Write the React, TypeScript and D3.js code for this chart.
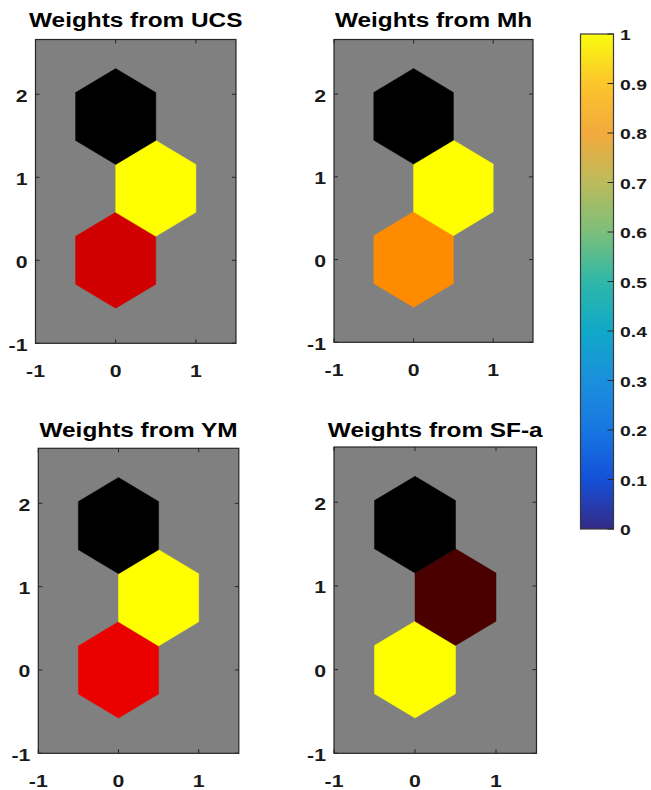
import React, { useEffect, useRef } from 'react';
import * as d3 from 'd3';

// neuron positions of the 1x3 hex SOM grid
const neuronX = [0, 0.5, 0];
const neuronY = [0, 0.866, 1.732];

const panelTitles = ['Weights from UCS', 'Weights from Mh', 'Weights from YM', 'Weights from SF-a'];

// normalised weight per neuron (0 = black, 0.5 = red, 1 = yellow)
const weightsUCS = [0.41, 1, 0];
const weightsMh = [0.775, 1, 0];
const weightsYM = [0.46, 1, 0];
const weightsSFa = [1, 0.147, 0];
const panelWeights = [weightsUCS, weightsMh, weightsYM, weightsSFa];

const xTicks = [-1, 0, 1];
const yTicks = [-1, 0, 1, 2];
const cbTicks = [0, 0.1, 0.2, 0.3, 0.4, 0.5, 0.6, 0.7, 0.8, 0.9, 1];

// parula-like colormap key colours, one per colorbar tick
const parulaStops = ['#352a87', '#1450d8', '#1877e2', '#1a8fdc', '#10a8c8', '#2fb7a8', '#7cbf7a', '#bcbb5c', '#f2aa3c', '#fcc52c', '#f9fb0e'];

// axes boxes in pixels
const panels = [
  { left: 35.5, right: 236, top: 39.5, bottom: 343.3, titleY: 27 },
  { left: 334, right: 533, top: 39.5, bottom: 342.3, titleY: 27 },
  { left: 38.3, right: 238.8, top: 448.3, bottom: 753.3, titleY: 437 },
  { left: 334, right: 536.5, top: 447, bottom: 753.3, titleY: 437 },
];

const W = 651;
const H = 790;
const STRETCH = 1.25;
const FONT = '"Liberation Sans", Arial, Helvetica, sans-serif';

const App: React.FC = () => {
  const svgRef = useRef<SVGSVGElement>(null);

  useEffect(() => {
    if (!svgRef.current) return;
    const svg = d3.select(svgRef.current);
    svg.selectAll('*').remove();

    svg.append('rect').attr('width', W).attr('height', H).attr('fill', '#fff');

    const heat = d3.scaleLinear<string>()
      .domain([0, 0.5, 1])
      .range(['#000000', '#ff0000', '#ffff00']);

    const addText = (g: any, x: number, y: number, txt: string, size: number, anchor: string, color = '#1a1a1a') => {
      g.append('text')
        .attr('transform', `translate(${x},${y}) scale(${STRETCH},1)`)
        .attr('text-anchor', anchor)
        .attr('font-family', FONT)
        .attr('font-weight', 'bold')
        .attr('font-size', size)
        .attr('fill', color)
        .text(txt);
    };

    const hexR = 1 / Math.sqrt(3);
    const angles = d3.range(6).map((k) => Math.PI / 2 + (k * Math.PI) / 3);

    panels.forEach((p, i) => {
      const x = d3.scaleLinear().domain([-1, 1.5]).range([p.left, p.right]);
      const y = d3.scaleLinear().domain([-1, 2.66]).range([p.bottom, p.top]);
      const g = svg.append('g');

      g.append('rect')
        .attr('x', p.left).attr('y', p.top)
        .attr('width', p.right - p.left).attr('height', p.bottom - p.top)
        .attr('fill', '#808080');

      const line = d3.line<[number, number]>().x((d) => x(d[0])).y((d) => y(d[1]));
      panelWeights[i].forEach((w, n) => {
        const pts = angles.map((a) => [neuronX[n] + hexR * Math.cos(a), neuronY[n] + hexR * Math.sin(a)] as [number, number]);
        g.append('path')
          .attr('d', line(pts) + 'Z')
          .attr('fill', heat(w))
          .attr('stroke', heat(w))
          .attr('stroke-width', 0.5);
      });

      g.append('rect')
        .attr('x', p.left).attr('y', p.top)
        .attr('width', p.right - p.left).attr('height', p.bottom - p.top)
        .attr('fill', 'none')
        .attr('stroke', '#262626')
        .attr('stroke-width', 1.2);

      const tl = 4;
      xTicks.forEach((t) => {
        g.append('line').attr('x1', x(t)).attr('x2', x(t)).attr('y1', p.bottom).attr('y2', p.bottom - tl).attr('stroke', '#262626');
        g.append('line').attr('x1', x(t)).attr('x2', x(t)).attr('y1', p.top).attr('y2', p.top + tl).attr('stroke', '#262626');
        addText(g, x(t), p.bottom + 34, String(t), 17, 'middle');
      });
      yTicks.forEach((t) => {
        g.append('line').attr('x1', p.left).attr('x2', p.left + tl).attr('y1', y(t)).attr('y2', y(t)).attr('stroke', '#262626');
        g.append('line').attr('x1', p.right).attr('x2', p.right - tl).attr('y1', y(t)).attr('y2', y(t)).attr('stroke', '#262626');
        addText(g, p.left - 8, y(t) + 7.5, String(t), 17, 'end');
      });

      addText(g, (p.left + p.right) / 2, p.titleY, panelTitles[i], 19.5, 'middle', '#000');
    });

    // colorbar
    const cb = { left: 580.5, right: 613.5, top: 34, bottom: 529 };
    const cbScale = d3.scaleLinear().domain([0, 1]).range([cb.bottom, cb.top]);
    const parula = d3.scaleLinear<string>()
      .domain(parulaStops.map((_, k) => k / (parulaStops.length - 1)))
      .range(parulaStops);

    const grad = svg.append('defs').append('linearGradient')
      .attr('id', 'parula')
      .attr('x1', 0).attr('y1', 1).attr('x2', 0).attr('y2', 0);
    d3.range(0, 1.0001, 0.025).forEach((t) => {
      grad.append('stop').attr('offset', t).attr('stop-color', parula(t));
    });

    svg.append('rect')
      .attr('x', cb.left).attr('y', cb.top)
      .attr('width', cb.right - cb.left).attr('height', cb.bottom - cb.top)
      .attr('fill', 'url(#parula)')
      .attr('stroke', '#3a3a3a')
      .attr('stroke-width', 1.2);

    const cbg = svg.append('g');
    cbTicks.forEach((t) => {
      cbg.append('line')
        .attr('x1', cb.right - 6).attr('x2', cb.right)
        .attr('y1', cbScale(t)).attr('y2', cbScale(t))
        .attr('stroke', '#262626');
      addText(cbg, 620, cbScale(t) + 6, String(t), 15.5, 'start');
    });
  }, []);

  return (
    <svg
      ref={svgRef}
      width={W}
      height={H}
      style={{ position: 'absolute', left: 0, top: 0, display: 'block' }}
    ></svg>
  );
};

export default App;
